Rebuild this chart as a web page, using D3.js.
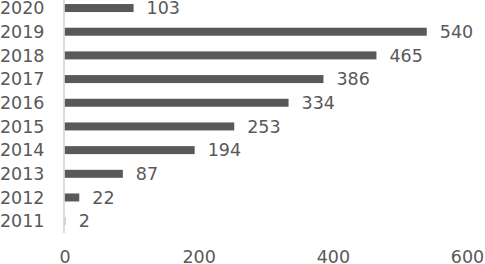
<!DOCTYPE html>
<html>
<head>
<meta charset="utf-8">
<script src="https://cdn.jsdelivr.net/npm/d3@7"></script>
<style>
  body { margin: 0; background: #fff; overflow: hidden; }
  text { font-family: "DejaVu Sans", Verdana, sans-serif; fill: #595959; }
</style>
</head>
<body>
<div id="chart"></div>
<script>
var years = ["2020", "2019", "2018", "2017", "2016", "2015", "2014", "2013", "2012", "2011"];
var counts = [103, 540, 465, 386, 334, 253, 194, 87, 22, 2];
var xTicks = [0, 200, 400, 600];

var W = 485, H = 264;
var fontSize = "17.5px";

var svg = d3.select("#chart").append("svg")
    .attr("width", W)
    .attr("height", H)
    .style("display", "block");

var x = d3.scaleLinear()
    .domain([0, 600])
    .range([64.5, 467]);

var y = d3.scaleBand()
    .domain(years)
    .range([-3.8, 233])
    .paddingInner(0.66)
    .paddingOuter(0.33);

// bars
svg.append("g")
    .selectAll("rect")
    .data(years)
    .enter().append("rect")
    .attr("x", x(0))
    .attr("y", function (d) { return y(d) + y.bandwidth() / 2 - 4; })
    .attr("width", function (d, i) { return Math.max(1, x(counts[i]) - x(0)); })
    .attr("height", 8)
    .attr("fill", function (d, i) { return counts[i] < 5 ? "#c8c8c8" : "#595959"; });

// vertical axis line
svg.append("line")
    .attr("x1", x(0) - 0.5).attr("x2", x(0) - 0.5)
    .attr("y1", 0).attr("y2", 233)
    .attr("stroke", "#d0d0d0")
    .attr("stroke-width", 1.5);

// year labels
svg.append("g")
    .selectAll("text")
    .data(years)
    .enter().append("text")
    .attr("x", 44.5)
    .attr("y", function (d) { return y(d) + y.bandwidth() / 2; })
    .attr("dy", "0.36em")
    .attr("text-anchor", "end")
    .style("font-size", fontSize)
    .text(function (d) { return d; });

// value labels
svg.append("g")
    .selectAll("text")
    .data(years)
    .enter().append("text")
    .attr("x", function (d, i) { return x(counts[i]) + 13; })
    .attr("y", function (d) { return y(d) + y.bandwidth() / 2; })
    .attr("dy", "0.36em")
    .style("font-size", fontSize)
    .text(function (d, i) { return counts[i]; });

// bottom axis ticks
var xAxis = svg.append("g")
    .attr("transform", "translate(0,262.5)")
    .call(d3.axisBottom(x).tickValues(xTicks).tickSize(0).tickPadding(0));
xAxis.select(".domain").remove();
xAxis.selectAll("text")
    .attr("y", 0)
    .attr("dy", 0)
    .style("font-size", fontSize)
    .style("font-family", "\"DejaVu Sans\", Verdana, sans-serif")
    .attr("fill", "#595959");
</script>
</body>
</html>
